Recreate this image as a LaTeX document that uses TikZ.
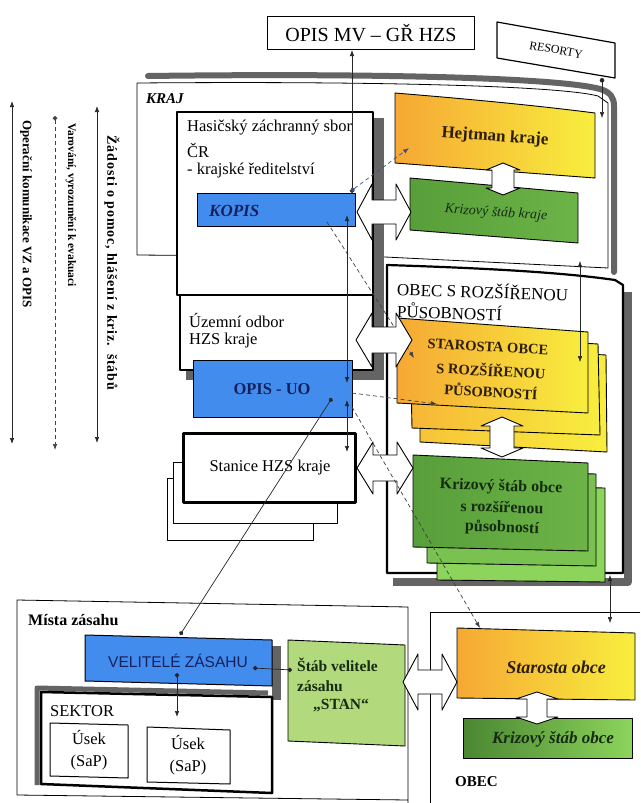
\documentclass[tikz,border=0pt]{standalone}
\usepackage{fontspec}
\setmainfont{Liberation Serif}
\setsansfont{Liberation Sans}
\usetikzlibrary{arrows.meta}
\definecolor{bluebox}{RGB}{66,140,238}
\definecolor{navy}{RGB}{22,32,92}
\definecolor{orng}{RGB}{246,168,52}
\definecolor{yell}{RGB}{248,238,62}
\definecolor{grnD}{RGB}{88,158,58}
\definecolor{grnM}{RGB}{108,180,72}
\definecolor{grnL}{RGB}{140,212,92}
\definecolor{stangrn}{RGB}{178,218,125}
\definecolor{shadowgray}{RGB}{100,100,100}
\definecolor{gtext}{RGB}{22,44,18}
\definecolor{otext}{RGB}{45,30,10}
\tikzset{
 Ar/.tip={Latex[length=6pt,width=4.5pt]},
 Dt/.tip={Circle[length=4.5pt]},
 pics/dblarr/.style n args={4}{code={
   \draw[fill=white, line width=0.9pt] (-#1,0) -- (-#1+#4,-#2) -- (-#1+#4,-#3) -- (#1-#4,-#3) -- (#1-#4,-#2) -- (#1,0) -- (#1-#4,#2) -- (#1-#4,#3) -- (-#1+#4,#3) -- (-#1+#4,#2) -- cycle;}},
 txt/.style={inner sep=0pt, font=\fontsize{16.5}{19}\selectfont},
 conn/.style={line width=0.7pt, draw=black!85},
 dconn/.style={line width=0.7pt, draw=black!75, dash pattern=on 4pt off 3pt},
 boxline/.style={line width=0.9pt, draw=black}
}
\begin{document}
\begin{tikzpicture}[x=1pt,y=-1pt,line join=round]
\useasboundingbox (0,0) rectangle (640,803);
\fill[white] (0,0) rectangle (640,803);

% ---------- legend ----------
\coordinate (l1t) at (12,101); \coordinate (l1b) at (12,444);
\coordinate (l2t) at (55,116); \coordinate (l2b) at (55,450);
\coordinate (l3t) at (97,106); \coordinate (l3b) at (97,443);
\draw[conn, Ar-Ar] (l1t) -- (l1b);
\draw[dconn, Dt-Ar] (l2t) -- (l2b);
\draw[conn, Ar-Ar] (l3t) -- (l3b);
\node[txt, font=\bfseries\fontsize{13}{15}\selectfont, rotate=-90] (leg1) at (26,214) {Operační komunikace VZ a OPIS};
\node[txt, font=\bfseries\fontsize{11.5}{14}\selectfont, rotate=-90] (leg2) at (71,205) {Varování, vyrozumění k evakuaci};
\node[txt, font=\bfseries\fontsize{14}{16}\selectfont\addfontfeature{LetterSpace=6}, rotate=-90] (leg3) at (112,263) {Žádosti o pomoc, hlášení z kriz.\hspace{8pt}štábů};

% ---------- top boxes ----------
\node[draw, line width=1.2pt, minimum width=207pt, minimum height=33pt, inner sep=0pt,
      font=\fontsize{20}{22}\selectfont] (opismv) at (371,33) {OPIS MV -- GŘ HZS};
\draw[line width=1.2pt, fill=white] (497,22) -- (615,43) -- (615,78) -- (497,58) -- cycle;
\node[txt, font=\fontsize{12}{14}\selectfont, rotate=-10] (resorty) at (556,50) {RESORTY};

% ---------- KRAJ frame ----------
\draw[shadowgray, line width=6pt, line cap=round] (148,76) .. controls (380,73) and (560,78) .. (600,89) .. controls (610,92) and (614,97) .. (614,106) -- (614,272);
\draw[fill=white, line width=0.8pt] (137,83) .. controls (380,81) and (560,86) .. (598,96) -- (608,103) -- (608,268) -- (385,257) -- (137,255) -- cycle;
\node[txt, font=\bfseries\itshape\fontsize{15}{17}\selectfont, anchor=west] (kraj) at (146,99) {KRAJ};

% ---------- OBEC S ROZ. frame ----------
\draw[shadowgray, line width=8pt] (628,292) -- (628,582) -- (393,582);
\draw[fill=white, line width=2.2pt] (387,265) .. controls (480,268) and (560,272) .. (615,280) -- (623,285) -- (623,573) -- (387,573) -- cycle;
\node[txt, font=\fontsize{17}{19}\selectfont, anchor=west, rotate=-2] (orp1) at (397,288) {OBEC S ROZŠÍŘENOU};
\node[txt, font=\fontsize{17}{19}\selectfont, anchor=west, rotate=-2] (orp2) at (397,310) {PŮSOBNOSTÍ};

% ---------- HZS blocks ----------
\fill[shadowgray] (373,118) rectangle (384,380);
\fill[shadowgray] (186,370) rectangle (384,380);
\draw[fill=white, line width=1.5pt] (177,112) rectangle (373,295);
\draw[fill=white, line width=1.2pt] (180,295) rectangle (373,370);
\node[txt, anchor=west] (hzs1) at (187,128) {Hasičský záchranný sbor};
\node[txt, anchor=west] (hzs2) at (187,150) {ČR};
\node[txt, anchor=west] (hzs3) at (187,171) {- krajské ředitelství};
\node[txt, anchor=west] (uo1) at (189,320) {Územní odbor};
\node[txt, anchor=west] (uo2) at (189,341) {HZS kraje};
\draw[fill=bluebox, line width=1pt] (197,193) rectangle (355,226);
\node[txt, font=\bfseries\itshape\fontsize{17}{19}\selectfont, text=navy, anchor=west] (kopis) at (209,211) {KOPIS};
\draw[fill=bluebox, line width=1pt] (193,360) rectangle (352,417);
\node[txt, font=\bfseries\fontsize{16.5}{19}\selectfont, text=navy] (opisuo) at (272,389) {OPIS - UO};
% Stanice stack
\draw[fill=white, line width=1pt] (167,478) rectangle (313,540);
\draw[fill=white, line width=1pt] (173,462) rectangle (337,523);
\draw[fill=white, line width=3pt] (183,433) rectangle (355,502);
\node[txt] (stanice) at (270,468) {Stanice HZS kraje};

% ---------- KRAJ right boxes ----------
\path[boxline, left color=orng, right color=yell] (395,93) .. controls (480,100) and (540,106) .. (595,113) -- (595,178) -- (395,163) -- cycle;
\node[txt, font=\bfseries\fontsize{17}{19}\selectfont, text=otext, rotate=-4] (hejtman) at (495,137) {Hejtman kraje};
\path[boxline, left color=grnD, right color=grnM] (410,178) -- (578,193) -- (578,243) -- (410,230) -- cycle;
\node[txt, font=\itshape\fontsize{14}{16}\selectfont, text=gtext, rotate=-4] (kskraj) at (496,213) {Krizový štáb kraje};

% ---------- STAROSTA stack ----------
\path[boxline, left color=orng!60!yell, right color=yell] (420,345) -- (606,355) -- (607,452) -- (420,442) -- cycle;
\path[boxline, left color=orng!80!yell, right color=yell] (410,333) -- (598,344) -- (600,435) -- (412,428) -- cycle;
\path[boxline, left color=orng, right color=yell] (397,318) -- (588,332) -- (588,413) -- (397,403) -- cycle;
\node[txt, font=\bfseries\fontsize{14.5}{17}\selectfont, text=otext, rotate=-3] (st1) at (488,347) {STAROSTA OBCE};
\node[txt, font=\bfseries\fontsize{14.5}{17}\selectfont, text=otext, rotate=-3] (st2) at (491,370) {S ROZŠÍŘENOU};
\node[txt, font=\bfseries\fontsize{14.5}{17}\selectfont, text=otext, rotate=-3] (st3) at (491,391) {PŮSOBNOSTÍ};

% ---------- Krizovy stab ORP stack ----------
\path[boxline, fill=grnL] (437,485) -- (605,488) -- (605,582) -- (437,580) -- cycle;
\path[boxline, fill=grnM!60!grnL] (427,470) -- (596,474) -- (596,566) -- (427,563) -- cycle;
\path[boxline, left color=grnD, right color=grnM] (413,455) -- (588,463) -- (588,551) -- (413,547) -- cycle;
\node[txt, font=\bfseries\fontsize{16}{18}\selectfont, text=gtext, rotate=-2] (ks1) at (501,487) {Krizový štáb obce};
\node[txt, font=\bfseries\fontsize{16}{18}\selectfont, text=gtext, rotate=-2] (ks2) at (502,507) {s rozšířenou};
\node[txt, font=\bfseries\fontsize{16}{18}\selectfont, text=gtext, rotate=-2] (ks3) at (502,528) {působností};

% ---------- Mista zasahu ----------
\draw[fill=white, line width=0.8pt] (17,600) -- (408,607) -- (408,803) -- (408,800) -- (17,795) -- cycle;
\node[txt, font=\bfseries\fontsize{16}{18}\selectfont, anchor=west] (mista) at (28,620) {Místa zásahu};
\fill[shadowgray] (272,646) rectangle (281,700);
\draw[fill=bluebox, line width=1pt] (85,635) -- (272,640) -- (272,686) -- (85,681) -- cycle;
\node[txt, font=\sffamily\fontsize{15.5}{18}\selectfont, text=navy] (velitel) at (178,661) {VELITELÉ ZÁSAHU};
\draw[shadowgray, line width=5pt] (37,785) -- (37,688) -- (268,693);
\draw[fill=white, line width=2.5pt] (41,692) -- (272,697) -- (272,793) -- (41,784) -- cycle;
\node[txt, anchor=west] (sektor) at (50,711) {SEKTOR};
\draw[fill=white, line width=1pt] (50,723) -- (128,725) -- (128,778) -- (50,776) -- cycle;
\node[txt, align=center] (usek1) at (89,750) {Úsek\\[3pt](SaP)};
\draw[fill=white, line width=1pt] (147,727) -- (230,730) -- (230,784) -- (147,782) -- cycle;
\node[txt, align=center] (usek2) at (188,755) {Úsek\\[3pt](SaP)};
\path[boxline, fill=stangrn] (288,640) -- (405,645) -- (405,746) -- (288,741) -- cycle;
\node[txt, font=\bfseries\fontsize{15.5}{18}\selectfont, anchor=west, text=gtext] (stab1) at (297,665) {Štáb velitele};
\node[txt, font=\bfseries\fontsize{15.5}{18}\selectfont, anchor=west, text=gtext] (stab2) at (297,686) {zásahu};
\node[txt, font=\bfseries\fontsize{15.5}{18}\selectfont, anchor=west, text=gtext] (stab3) at (313,706) {„STAN“};

% ---------- OBEC ----------
\draw[line width=0.8pt] (640,612) -- (430,612) -- (430,803);
\path[boxline, left color=orng, right color=yell] (457,628) -- (635,633) -- (635,700) -- (457,698) -- cycle;
\node[txt, font=\bfseries\itshape\fontsize{18}{20}\selectfont, text=otext] (starosta) at (556,667) {Starosta obce};
\path[boxline, left color=grnD!85!black, right color=grnL] (463,718) -- (632,718) -- (632,758) -- (463,758) -- cycle;
\node[txt, font=\bfseries\itshape\fontsize{17}{19}\selectfont, text=gtext] (ksobce) at (553,739) {Krizový štáb obce};
\node[txt, font=\bfseries\fontsize{15}{17}\selectfont, anchor=west] (obec) at (455,782) {OBEC};

% ---------- connectors ----------
\coordinate (mvB) at (352,50); \coordinate (kopT) at (352,193);
\coordinate (kopA) at (347,215); \coordinate (uoA) at (347,383);
\coordinate (uoB) at (347,400); \coordinate (stA) at (347,452);
\coordinate (kopD) at (351,191); \coordinate (hejA) at (409,148);
\coordinate (kopE) at (327,222); \coordinate (starA) at (414,358);
\draw[dconn, -Ar] (kopE) -- (starA);
\coordinate (uoE) at (352,393); \coordinate (starB) at (437,404);
\coordinate (uoF) at (352,407); \coordinate (sobA) at (480,628);
\coordinate (uoG) at (332,398); \coordinate (velA) at (180,635);
\coordinate (resB) at (602,78); \coordinate (krajR) at (602,118);
\coordinate (krajB) at (580,261); \coordinate (starC) at (580,362);
\coordinate (orpB) at (610,575); \coordinate (sobB) at (610,623);
\coordinate (velB) at (253,668); \coordinate (stabA) at (292,670);
\coordinate (velC) at (177,673); \coordinate (sekA) at (177,717);

% ---------- fat double arrows ----------
\pic at (384,212) {dblarr={27}{28}{12}{15}};
\pic at (384,340) {dblarr={28}{27}{13}{16}};
\pic at (385,468) {dblarr={28}{26}{13}{16}};
\pic at (430,682) {dblarr={27}{28}{12}{15}};
\pic[rotate=90] at (503,179) {dblarr={16}{17}{11}{7}};
\pic[rotate=90] at (502,437) {dblarr={20}{21}{12}{9}};
\pic[rotate=90] at (537,708) {dblarr={16}{21}{10}{7}};

\draw[conn, Ar-Dt] (mvB) -- (kopT);
\draw[conn, Ar-Ar] (kopA) -- (uoA);
\draw[conn, Ar-Ar] (uoB) -- (stA);
\draw[dconn, draw=navy!80, Dt-Ar] (kopD) -- (hejA);
\draw[dconn, -Ar] (uoE) -- (starB);
\draw[dconn, -Ar] (uoF) -- (sobA);
\draw[conn, Dt-Dt] (uoG) -- (velA);
\draw[conn, line width=0.5pt, Dt-Ar] (resB) -- (krajR);
\draw[conn, line width=0.5pt, Ar-Ar] (krajB) -- (starC);
\draw[conn, line width=0.5pt, Ar-Ar] (orpB) -- (sobB);
\draw[conn, Dt-Dt] (velB) -- (stabA);
\draw[conn, Dt-Ar] (velC) -- (sekA);
\end{tikzpicture}
\end{document}
